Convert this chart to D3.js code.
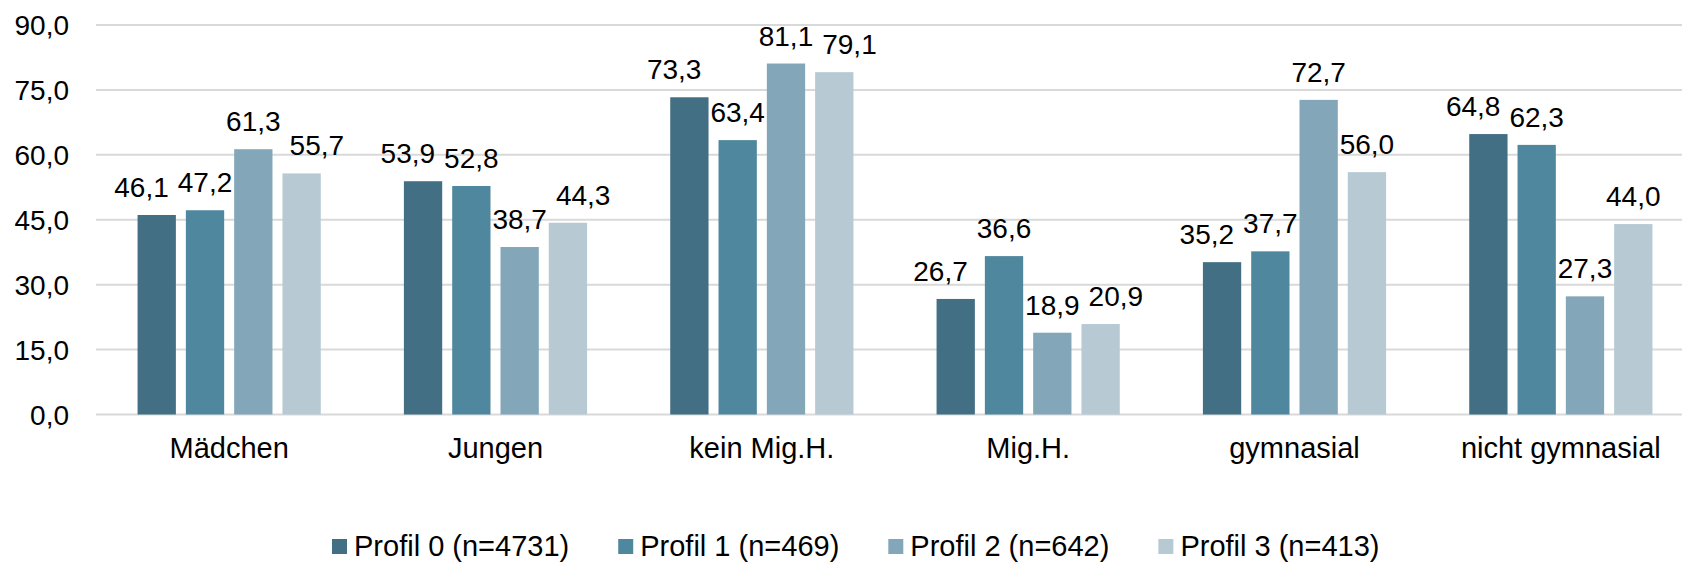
<!DOCTYPE html>
<html>
<head>
<meta charset="utf-8">
<script src="https://cdn.jsdelivr.net/npm/d3@7/dist/d3.min.js"></script>
<style>
  html, body { margin: 0; padding: 0; background: #fff; }
  svg { display: block; font-family: "Liberation Sans", Arial, sans-serif; }
</style>
</head>
<body>
<svg id="chart" width="1682" height="562"></svg>
<script>
const categories = ["Mädchen", "Jungen", "kein Mig.H.", "Mig.H.", "gymnasial", "nicht gymnasial"];
const seriesNames = ["Profil 0 (n=4731)", "Profil 1 (n=469)", "Profil 2 (n=642)", "Profil 3 (n=413)"];
const profil0 = [46.1, 53.9, 73.3, 26.7, 35.2, 64.8];
const profil1 = [47.2, 52.8, 63.4, 36.6, 37.7, 62.3];
const profil2 = [61.3, 38.7, 81.1, 18.9, 72.7, 27.3];
const profil3 = [55.7, 44.3, 79.1, 20.9, 56.0, 44.0];
const yTicks = [0, 15, 30, 45, 60, 75, 90];
const colors = ["#426f83", "#4f889e", "#83a7b9", "#b7c9d3"];

const seriesValues = [profil0, profil1, profil2, profil3];
const fmt = v => d3.format(".1f")(v).replace(".", ",");

const svg = d3.select("#chart");
const W = 1682, H = 562;
const plotLeft = 96, plotRight = 1694, yTop = 25, yBottom = 414.5;

const y = d3.scaleLinear().domain([0, 90]).range([yBottom, yTop]);
const x0 = d3.scaleBand().domain(categories).range([plotLeft, plotRight]).padding(0);
const groupHalf = 96.6;
const x1 = d3.scaleBand().domain(d3.range(4))
  .range([x0.bandwidth() / 2 - groupHalf, x0.bandwidth() / 2 + groupHalf])
  .paddingInner(0.207).paddingOuter(0.1035);

// gridlines
const grid = svg.append("g");
grid.selectAll("line").data(yTicks).join("line")
  .attr("x1", plotLeft).attr("x2", W)
  .attr("y1", d => y(d)).attr("y2", d => y(d))
  .attr("stroke", "#d9d9d9").attr("stroke-width", 2);

// y axis
const yAxis = d3.axisLeft(y).tickValues(yTicks).tickFormat(fmt).tickSize(0).tickPadding(0);
const yg = svg.append("g").attr("transform", `translate(69,0)`).call(yAxis);
yg.select(".domain").remove();
yg.selectAll("text").attr("font-size", 28).attr("fill", "#000")
  .attr("font-family", '"Liberation Sans", Arial, sans-serif').attr("dy", "0.35em");

// x axis labels
const xAxis = d3.axisBottom(x0).tickSize(0).tickPadding(0);
const xg = svg.append("g").attr("transform", `translate(0,${yBottom})`).call(xAxis);
xg.select(".domain").remove();
xg.selectAll("text").attr("font-size", 29).attr("fill", "#000")
  .attr("font-family", '"Liberation Sans", Arial, sans-serif')
  .attr("y", 43).attr("dy", 0);

// bars
const data = [];
categories.forEach((c, ci) => {
  seriesValues.forEach((vals, si) => data.push({ c, ci, si, v: vals[ci] }));
});
const groups = svg.append("g");
groups.selectAll("rect").data(data).join("rect")
  .attr("x", d => x0(d.c) + x1(d.si))
  .attr("width", x1.bandwidth())
  .attr("y", d => y(d.v))
  .attr("height", d => y(0) - y(d.v))
  .attr("fill", d => colors[d.si]);

// value labels
const labelG = svg.append("g");
const labels = labelG.selectAll("text").data(data).join("text")
  .attr("font-size", 28).attr("fill", "#000").attr("text-anchor", "middle")
  .text(d => fmt(d.v));
data.forEach(d => {
  d.cx = x0(d.c) + x1(d.si) + x1.bandwidth() / 2;
  d.by = y(d.v) - 18;
});
labels.each(function(d) { d.w = this.getComputedTextLength(); });
// simple overlap avoidance: adjacent labels within a group that collide vertically are pushed outward
categories.forEach(c => {
  const g = data.filter(d => d.c === c).sort((a, b) => a.si - b.si);
  for (let i = 0; i < g.length - 1; i++) {
    const a = g[i], b = g[i + 1];
    if (Math.abs(a.by - b.by) < 50) {
      const ov = (a.cx + a.w / 2) - (b.cx - b.w / 2);
      const shift = Math.max(0, ov) + 9;
      if (i === 0) a.cx -= shift;
      else if (i + 1 === g.length - 1) b.cx += shift;
      else { a.cx -= shift / 2; b.cx += shift / 2; }
    }
  }
});
labels.attr("x", d => d.cx).attr("y", d => d.by);

// legend
const legend = svg.append("g");
let lx = 332;
seriesNames.forEach((name, i) => {
  legend.append("rect").attr("x", lx).attr("y", 539).attr("width", 15).attr("height", 15)
    .attr("fill", colors[i]);
  const t = legend.append("text").attr("x", lx + 22).attr("y", 556)
    .attr("font-size", 29).attr("fill", "#000").text(name);
  lx += 22 + t.node().getComputedTextLength() + 49;
});
</script>
</body>
</html>
